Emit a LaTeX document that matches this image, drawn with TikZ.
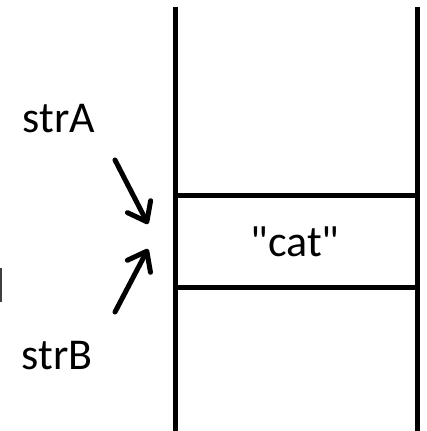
\documentclass[tikz,border=0pt]{standalone}
\usepackage{fontspec}
\setmainfont{Carlito}[Ligatures=TeXOff]
\usetikzlibrary{arrows.meta}
\begin{document}
\begin{tikzpicture}[x=1pt,y=-1pt,
  wall/.style={line width=5pt},
  lbl/.style={font=\fontsize{44}{50}\selectfont, inner sep=0pt, anchor=base},
  ptr/.style={line width=5pt, line cap=round, line join=round,
    -{Straight Barb[length=17pt,width=26pt,line cap=round,line join=round]}}]
\useasboundingbox (0,0) rectangle (427,431);
% stack walls
\coordinate (lt) at (175,7);
\coordinate (lb) at (175,431);
\coordinate (rt) at (417,7);
\coordinate (rb) at (417,431);
\draw[wall] (lt) -- (lb);
\draw[wall] (rt) -- (rb);
% cell borders
\coordinate (c1l) at (175,195.5);
\coordinate (c1r) at (417,195.5);
\coordinate (c2l) at (175,287);
\coordinate (c2r) at (417,287);
\draw[wall] (c1l) -- (c1r);
\draw[wall] (c2l) -- (c2r);
% texts
\node[lbl] (cat) at (295,256.5) {"cat"};
\node[lbl] (strA) at (59,132) {strA};
\node[lbl] (strB) at (57,369) {strB};
% pointers
\coordinate (a1) at (115,160);
\coordinate (a2) at (148,224);
\coordinate (b1) at (115,312);
\coordinate (b2) at (148,249);
\draw[ptr] (a1) -- (a2);
\draw[ptr] (b1) -- (b2);
% clipped fragment at left edge
\fill[black!75] (0,268) rectangle (1.5,302);
\end{tikzpicture}
\end{document}
